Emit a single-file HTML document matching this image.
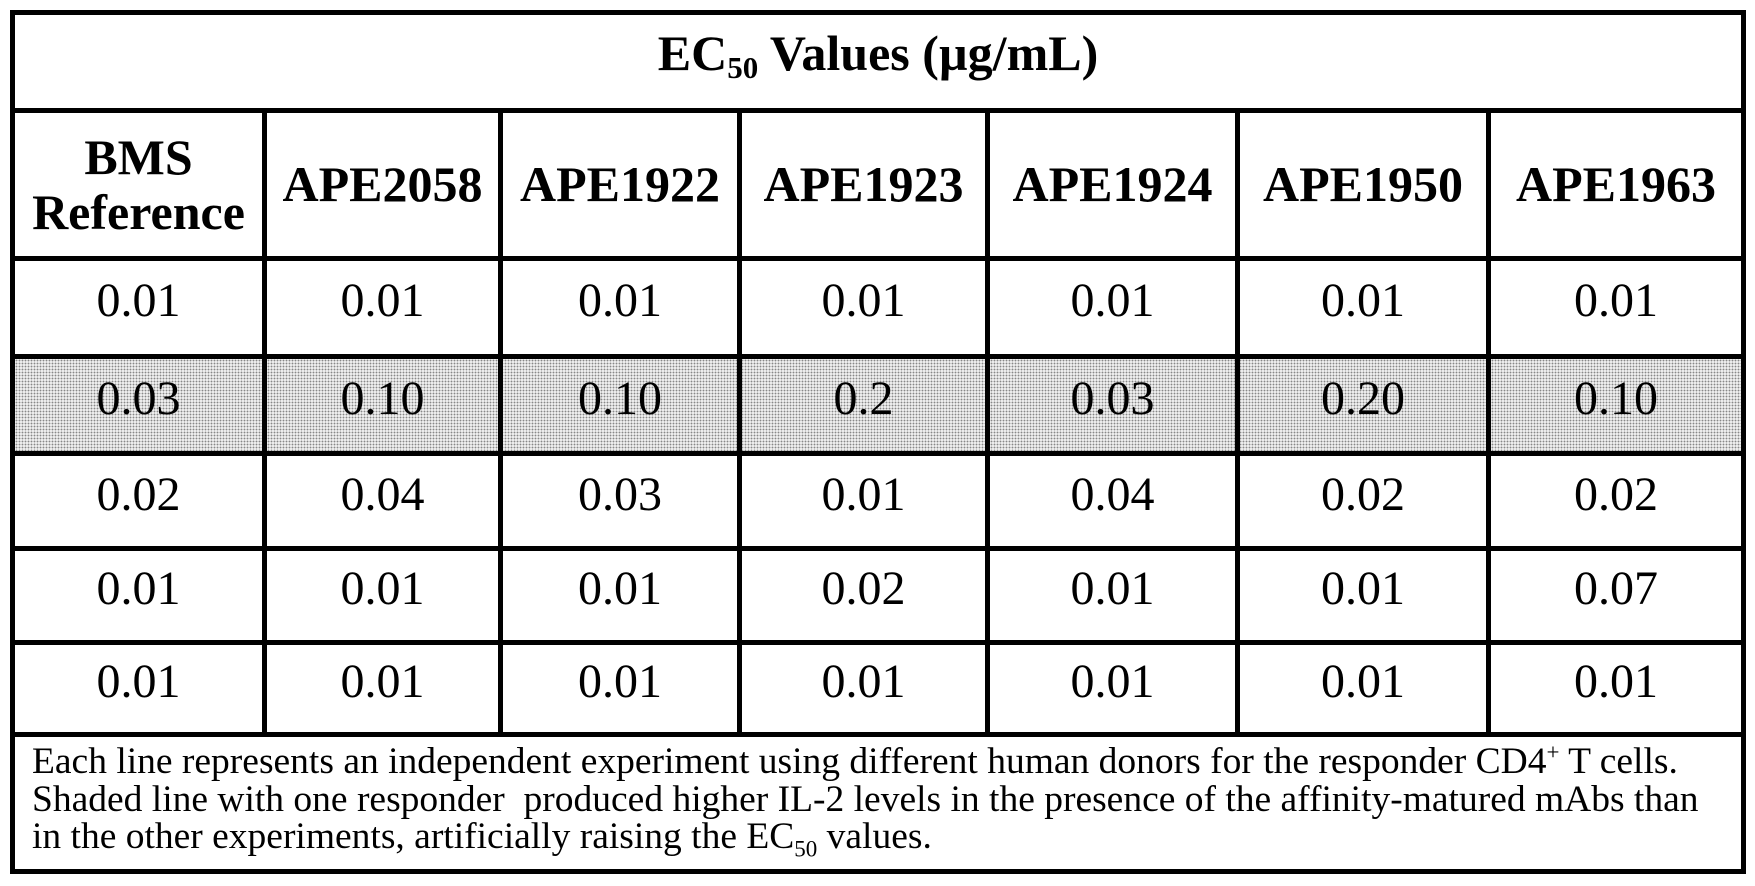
<!DOCTYPE html>
<html><head><meta charset="utf-8"><style>
html,body{margin:0;padding:0;background:#fff;width:1755px;height:886px;overflow:hidden;}
body{position:relative;font-family:"Liberation Serif",serif;color:#000;}
.h{position:absolute;background:#000;height:5px;}
.v{position:absolute;background:#000;width:5px;}
.c{position:absolute;display:flex;align-items:center;justify-content:center;text-align:center;box-sizing:border-box;}
.hd{font-weight:bold;font-size:50px;line-height:55px;padding-bottom:0px;}
.d{font-size:48px;padding-bottom:14px;}
.shade{position:absolute;left:12px;top:356px;width:1734px;height:97px;background-color:#ececec;background-image:radial-gradient(circle,#888 0.7px,transparent 1px);background-size:3px 3px;}
.sb{font-size:31px;position:relative;top:8px;}
</style></head><body>
<div class="shade"></div>
<div class="h" style="left:10px;top:10px;width:1736px"></div>
<div class="h" style="left:10px;top:108px;width:1736px"></div>
<div class="h" style="left:10px;top:256px;width:1736px"></div>
<div class="h" style="left:10px;top:354px;width:1736px"></div>
<div class="h" style="left:10px;top:451px;width:1736px"></div>
<div class="h" style="left:10px;top:546px;width:1736px"></div>
<div class="h" style="left:10px;top:640px;width:1736px"></div>
<div class="h" style="left:10px;top:732px;width:1736px"></div>
<div class="h" style="left:10px;top:869px;width:1736px"></div>
<div class="v" style="left:10px;top:10px;height:864px"></div>
<div class="v" style="left:1741px;top:10px;height:864px"></div>
<div class="v" style="left:262px;top:108px;height:629px"></div>
<div class="v" style="left:498px;top:108px;height:629px"></div>
<div class="v" style="left:737px;top:108px;height:629px"></div>
<div class="v" style="left:985px;top:108px;height:629px"></div>
<div class="v" style="left:1235px;top:108px;height:629px"></div>
<div class="v" style="left:1486px;top:108px;height:629px"></div>

<div class="c" style="left:15px;top:15px;width:1726px;height:93px;font-weight:bold;font-size:50px;padding-bottom:18px;"><span>EC<span class="sb">50</span> Values (µg/mL)</span></div>

<div id="grid"></div>
<script>
var xs=[15,267,503,742,990,1240,1491,1741];
var hdr=["BMS<br>Reference","APE2058","APE1922","APE1923","APE1924","APE1950","APE1963"];
var rows=[["0.01","0.01","0.01","0.01","0.01","0.01","0.01"],
["0.03","0.10","0.10","0.2","0.03","0.20","0.10"],
["0.02","0.04","0.03","0.01","0.04","0.02","0.02"],
["0.01","0.01","0.01","0.02","0.01","0.01","0.07"],
["0.01","0.01","0.01","0.01","0.01","0.01","0.01"]];
var ry=[[261,354],[359,451],[456,546],[551,640],[645,732]];
var h="";
for(var i=0;i<7;i++){
 var w=xs[i+1]-xs[i]-(i<6?5:0);
 h+='<div class="c hd" style="left:'+xs[i]+'px;top:113px;width:'+w+'px;height:143px">'+hdr[i]+'</div>';
 for(var r=0;r<5;r++){
  h+='<div class="c d" style="left:'+xs[i]+'px;top:'+ry[r][0]+'px;width:'+w+'px;height:'+(ry[r][1]-ry[r][0])+'px">'+rows[r][i]+'</div>';
 }
}
document.getElementById('grid').innerHTML=h;
</script>
<div style="position:absolute;left:32px;top:743px;width:1705px;font-size:37.5px;line-height:37.5px;white-space:nowrap;">
Each line represents an independent experiment using different human donors for the responder CD4<sup style="font-size:23px;line-height:0;">+</sup> T cells.<br>
Shaded line with one responder&nbsp; produced higher IL-2 levels in the presence of the affinity-matured mAbs than<br>
in the other experiments, artificially raising the EC<sub style="font-size:23px;line-height:0;">50</sub> values.
</div>
</body></html>
